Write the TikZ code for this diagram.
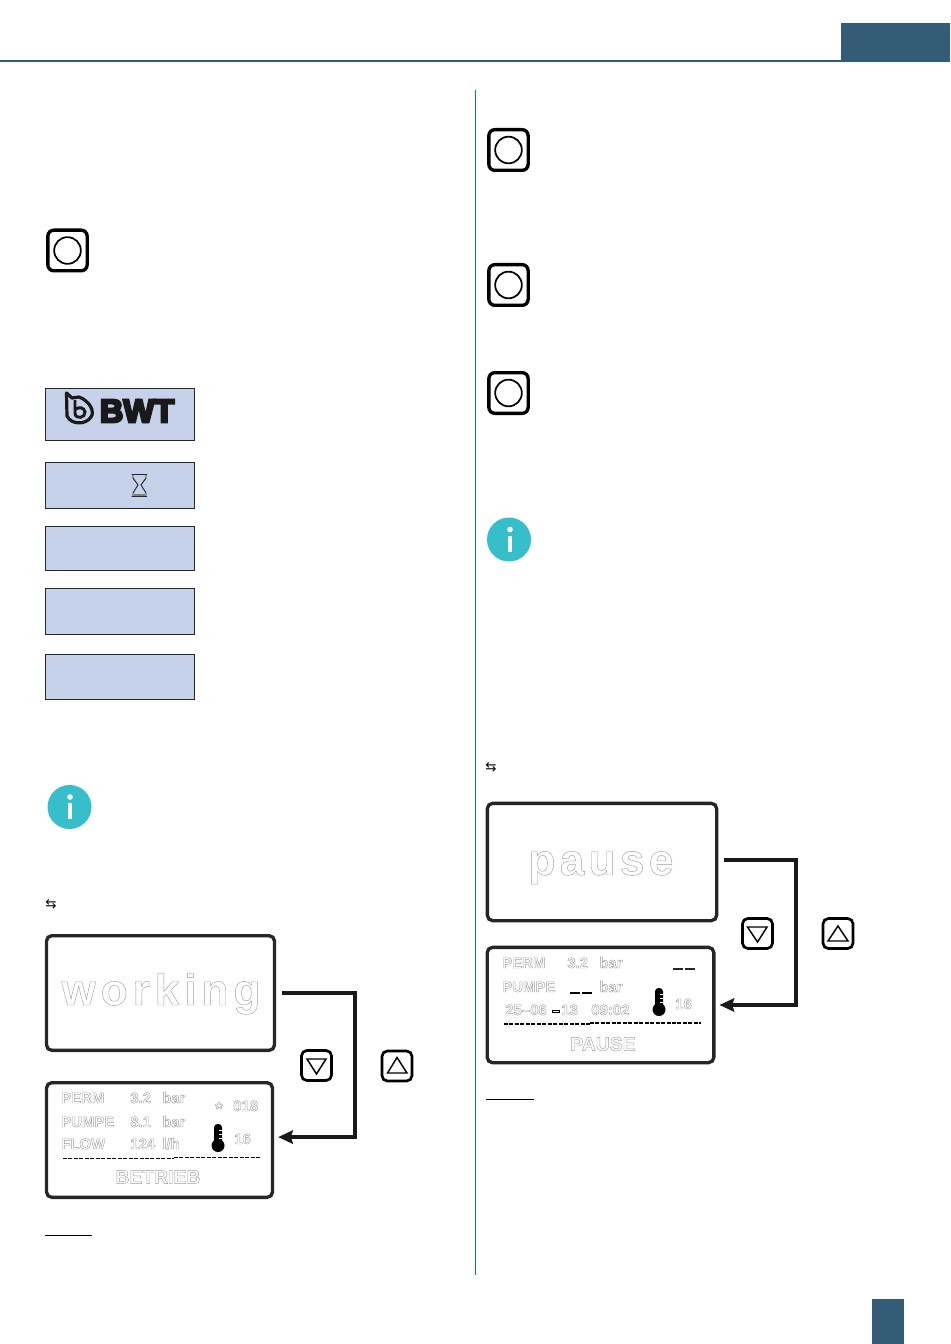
\documentclass[tikz,border=0pt]{standalone}
\usepackage{fontspec}
\usepackage{xcolor}
\usepackage{tikz}
\usetikzlibrary{arrows,arrows.meta,shapes,calc}
\newfontfamily\lcdfont{Liberation Sans}[BoldFont={Liberation Sans Bold}]
\newfontfamily\arrowfont{DejaVu Sans}
\definecolor{headblue}{HTML}{355C77}
\definecolor{lcdblue}{HTML}{C5D2E9}
\definecolor{infoteal}{HTML}{36BFCB}
\definecolor{rulecol}{HTML}{0B6FC2}
% outlined display lettering
\newcommand{\hollow}[1]{\special{pdf:code q 1 Tr 0.32 w 0.62 G}#1\special{pdf:code Q}}
\newcommand{\heavy}[1]{\special{pdf:code q 2 Tr 1.8 w 0.1 G 0.1 g}#1\special{pdf:code Q}}
\newcommand{\thermo}[2]{%
	\fill[black,rounded corners=2.6pt] (#1-4,#2-12) rectangle (#1+4,#2+8);
	\fill[black] (#1,#2+9.5) circle (6.5);
	\draw[white,line width=0.6pt] (#1+1,#2-6) -- (#1+4,#2-6) (#1+1,#2-2) -- (#1+4,#2-2) (#1+1,#2+2) -- (#1+4,#2+2);}
\newcommand{\infomark}[2]{%
	\fill[white] (#1,#2-10) circle (2.8);
	\fill[white] (#1-1.8,#2-4) rectangle (#1+1.8,#2+12);}
\begin{document}
\begin{tikzpicture}[x=0.75pt,y=-0.75pt]

	\tikzstyle{lcd}=[draw=black!85,line width=0.6pt,fill=lcdblue,minimum width=149*0.75pt,inner sep=0pt]
	\tikzstyle{display}=[draw=black!85,line width=2.5pt,rounded corners=4pt,fill=white,inner sep=0pt]
	\tikzstyle{pushkey}=[draw=black,line width=2.5pt,rounded corners=4.5pt,minimum width=29.5pt,minimum height=30.5pt,inner sep=0pt]
	\tikzstyle{ring}=[circle,draw=black,line width=1.3pt,minimum size=20pt,inner sep=0pt]
	\tikzstyle{arrowkey}=[draw=black,line width=2pt,rounded corners=4pt,minimum size=22.5pt,inner sep=0pt]
	\tikzstyle{info}=[circle,fill=infoteal,minimum size=33pt,inner sep=0pt]
	\tikzstyle{big}=[font=\lcdfont\bfseries\fontsize{33}{36}\selectfont,inner sep=0pt,anchor=base]
	\tikzstyle{small}=[font=\lcdfont\bfseries\fontsize{11.2}{13}\selectfont,inner sep=0pt,anchor=base west]
	\tikzstyle{state}=[font=\lcdfont\bfseries\fontsize{14.5}{16}\selectfont,inner sep=0pt]
	\tikzstyle{swap}=[font=\arrowfont\fontsize{10}{11}\selectfont,inner sep=0pt]
	\tikzstyle{link}=[line width=2.4pt,draw=black!90,-{Stealth[length=11pt,width=10pt,inset=1.5pt]},shorten <=4pt,shorten >=3pt]

	\useasboundingbox (0,0) rectangle (950,1344);

	% header and footer
	\fill[headblue] (0,60) rectangle (950,62);
	\fill[headblue] (841,23) rectangle (950,62);
	\fill[headblue] (872,1299) rectangle (904,1344);
	\draw[rulecol,line width=0.75pt] (475.5,90) -- (475.5,1275);

	% round keys
	\node[pushkey] (keyA) at (67.5,250.5) {};
	\node[ring] at (keyA) {};
	\node[pushkey] (keyB) at (508.5,150) {};
	\node[ring] at (keyB) {};
	\node[pushkey] (keyC) at (508.5,285) {};
	\node[ring] at (keyC) {};
	\node[pushkey] (keyD) at (508.5,393) {};
	\node[ring] at (keyD) {};

	% start up screens
	\node[lcd,minimum height=52*0.75pt] (lcdA) at (120,414.5) {};
	\node[lcd,minimum height=46*0.75pt] (lcdB) at (120,485.5) {};
	\node[lcd,minimum height=44*0.75pt] (lcdC) at (120,548.5) {};
	\node[lcd,minimum height=46*0.75pt] (lcdD) at (120,611.5) {};
	\node[lcd,minimum height=45*0.75pt] (lcdE) at (120,677) {};

	% logo
	\node[font=\lcdfont\bfseries\fontsize{24.5}{26}\selectfont,inner sep=0pt] (logo) at (137,411) {\heavy{BWT}};
	\draw[black!90,line width=2.4pt,line join=round] (66.5,393) -- (72,398) -- (79,397) .. controls (90,401) and (95,412) .. (91,417) .. controls (86,425) and (71,425) .. (67,416) -- cycle;
	\draw[black!90,line width=2.2pt] (75,400) -- (75,413) .. controls (75,420) and (86,418) .. (85,412) .. controls (84,407) and (79,407) .. (76,409);

	% hourglass
	\draw[black!85,line width=0.7pt] (131.5,474.5) -- (147,474.5) (131.5,496.5) -- (147,496.5)
		(133,475) -- (133,478) -- (138,485) -- (133,493) -- (133,496)
		(146,475) -- (146,478) -- (141,485) -- (146,493) -- (146,496);
	\fill[black!50] (134,493.5) rectangle (145,496);

	% info marks
	\node[info] (infoA) at (69.5,807) {};
	\infomark{70}{807}
	\node[info] (infoB) at (509,539.5) {};
	\infomark{510}{539.5}
	\node[swap] (swapA) at (51,904.5) {⇆};
	\node[swap] (swapB) at (491,767.5) {⇆};

	% left displays
	\node[display,minimum width=171pt,minimum height=86pt] (working) at (160.5,993) {};
	\node[big] (workingtxt) at (161,1005) {\hollow{\addfontfeatures{LetterSpace=11.4}working}};
	\node[display,minimum width=169.5pt,minimum height=86pt] (betrieb) at (159.5,1140) {};

	\node[small] (a1) at (61,1103) {\hollow{PERM}};
	\node[small] (a2) at (130,1103) {\hollow{3.2}};
	\node[small] (a3) at (162,1103) {\hollow{bar}};
	\node[small] (a4) at (61,1127) {\hollow{PUMPE}};
	\node[small] (a5) at (130,1127) {\hollow{8.1}};
	\node[small] (a6) at (162,1127) {\hollow{bar}};
	\node[small] (a7) at (61,1149) {\hollow{FLOW}};
	\node[small] (a8) at (130,1149) {\hollow{124}};
	\node[small] (a9) at (162,1149) {\hollow{l/h}};
	\node[small,font=\lcdfont\bfseries\fontsize{14}{16}\selectfont] (a10) at (215,1115) {\hollow{*}};
	\node[small] (a11) at (233,1111) {\hollow{018}};
	\node[small] (a12) at (234,1144) {\hollow{16}};
	\thermo{218}{1136}
	\draw[black,line width=1.1pt,dash pattern=on 3pt off 1.1pt] (63,1158.5) -- (174,1158.5);
	\draw[black,line width=1.1pt,dash pattern=on 3pt off 1.1pt] (174,1157.5) -- (260,1157.5);
	\node[state] (a13) at (158,1177) {\hollow{BETRIEB}};

	\draw[link] (working.east) -- (355,993) |- ([yshift=2.2pt]betrieb.east);
	\node[arrowkey] (downA) at (316.5,1065.5) {};
	\draw[black,line width=1.1pt,line join=miter] (307,1059) -- (326,1059) -- (316.5,1074) -- cycle;
	\node[arrowkey] (upA) at (397,1066) {};
	\draw[black,line width=1.1pt,line join=miter] (387.5,1073) -- (407,1073) -- (397,1057.5) -- cycle;

	\draw[black,line width=0.6pt] (45,1235) -- (92,1235);

	% right displays
	\node[display,minimum width=172pt,minimum height=88pt] (pause) at (602,862) {};
	\node[big] (pausetxt) at (601,875) {\hollow{\addfontfeatures{LetterSpace=10}pause}};
	\node[display,minimum width=170pt,minimum height=86.5pt] (pausestat) at (600.5,1005) {};

	\node[small] (b1) at (502,968) {\hollow{PERM}};
	\node[small] (b2) at (567,968) {\hollow{3.2}};
	\node[small] (b3) at (599,968) {\hollow{bar}};
	\node[small] (b4) at (502,992) {\hollow{PUMPE}};
	\node[small] (b5) at (599,992) {\hollow{bar}};
	\node[small] (b6) at (505,1015) {\hollow{25–06}};
	\node[small] (b7) at (561,1015) {\hollow{13}};
	\node[small] (b8) at (591,1015) {\hollow{09:02}};
	\node[small] (b9) at (675,1009) {\hollow{16}};
	\thermo{659}{1000}
	\draw[black!85,line width=0.8pt] (673,969) -- (683,969) (685,969) -- (695,969);
	\draw[black,line width=1.4pt] (570,993) -- (580,993) (582,993) -- (592,993);
	\draw[black,line width=0.7pt,fill=white] (552.5,1010) rectangle (559,1012.5);
	\draw[black,line width=1.1pt,dash pattern=on 3pt off 1.1pt] (504,1024) -- (590,1024);
	\draw[black,line width=1.1pt,dash pattern=on 3pt off 1.1pt] (590,1023) -- (701,1023);
	\node[state] (b10) at (603,1044) {\hollow{PAUSE}};

	\draw[link] ([yshift=1.5pt]pause.east) -- (796,860) |- (pausestat.east);
	\node[arrowkey] (downB) at (757.5,933.5) {};
	\draw[black,line width=1.1pt,line join=miter] (747.5,927) -- (767,927) -- (757.5,942) -- cycle;
	\node[arrowkey] (upB) at (838,933.5) {};
	\draw[black,line width=1.1pt,line join=miter] (828,941) -- (848,941) -- (838,926) -- cycle;

	\draw[black,line width=0.6pt] (486,1099) -- (534,1099);

\end{tikzpicture}
\end{document}
